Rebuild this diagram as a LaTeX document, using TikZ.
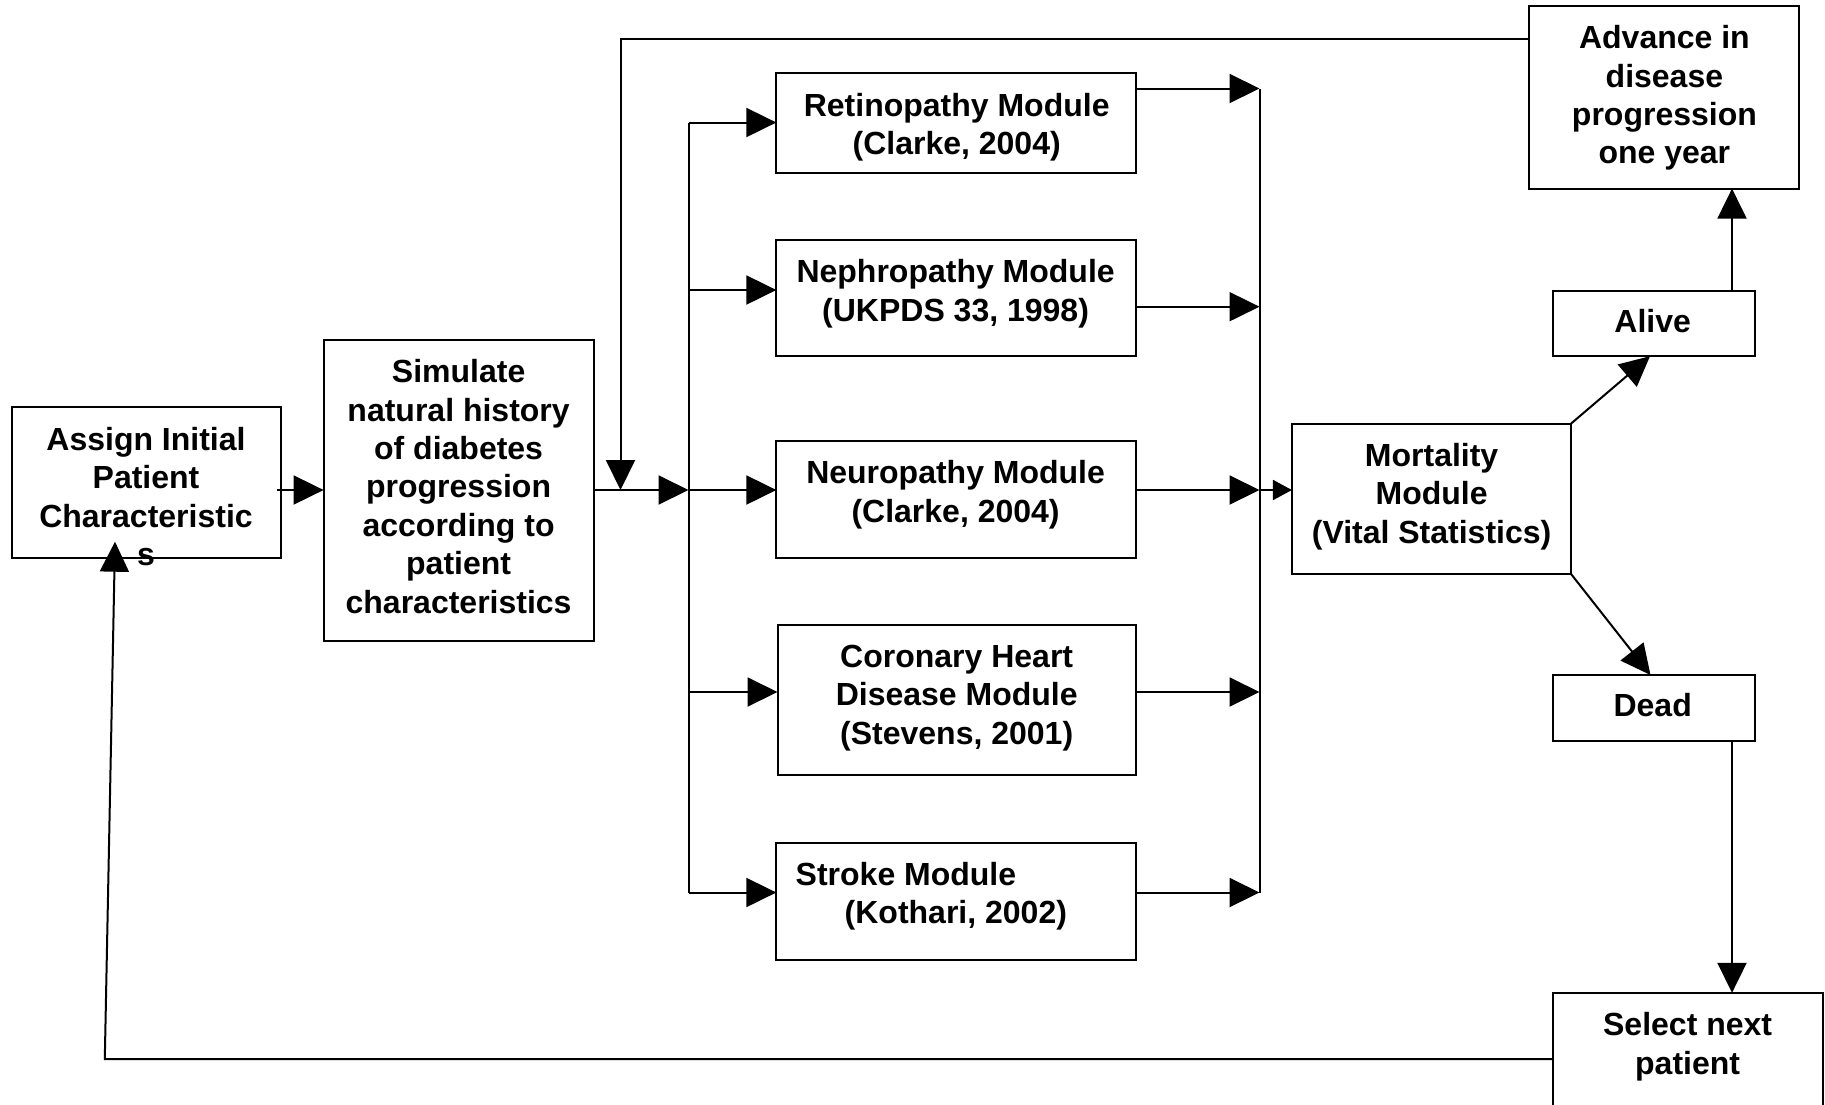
\documentclass[tikz,border=0pt]{standalone}
\usepackage{fontspec}
\setmainfont{Liberation Sans}
\usetikzlibrary{arrows.meta,calc}
\begin{document}
\begin{tikzpicture}[x=1pt,y=-1pt,
  box/.style={draw, line width=2pt, inner sep=0pt, outer sep=0pt},
  lbl/.style={inner sep=0pt, align=center, font=\fontsize{32}{38.4}\selectfont\bfseries},
  conn/.style={draw, line width=2pt},
  arr/.style={draw, line width=2pt, -{Triangle[length=30pt,width=29pt]}},
  arrS/.style={draw, line width=2pt, -{Triangle[length=19pt,width=20pt]}}]
\useasboundingbox (0,0) rectangle (1825,1104);
\clip (0,0) rectangle (1825,1104);
\fill[white] (0,0) rectangle (1825,1104);

% boxes
\node[box, minimum width=268.9pt, minimum height=150.1pt] (assign) at (146.05,482.45) {};
\node[box, minimum width=270pt, minimum height=301.4pt] (simulate) at (458.6,490.6) {};
\node[box, minimum width=359.7pt, minimum height=100.1pt] (ret) at (956.2,123.35) {};
\node[box, minimum width=359.7pt, minimum height=116.4pt] (neph) at (956.2,298) {};
\node[box, minimum width=359.7pt, minimum height=116.4pt] (neuro) at (956.2,499.3) {};
\node[box, minimum width=358.5pt, minimum height=150pt] (chd) at (956.75,699.8) {};
\node[box, minimum width=359.7pt, minimum height=117.5pt] (stroke) at (956.2,901.6) {};
\node[box, minimum width=279pt, minimum height=150.1pt] (mortality) at (1431.4,498.75) {};
\node[box, minimum width=202.5pt, minimum height=65.2pt] (alive) at (1654,323.6) {};
\node[box, minimum width=202.5pt, minimum height=66.4pt] (dead) at (1654,708.2) {};
\node[box, minimum width=270pt, minimum height=182.8pt] (advance) at (1664.4,97.2) {};
\node[box, minimum width=270pt, minimum height=127.2pt] (select) at (1687.7,1056.4) {};

% labels
\node[lbl] (assignT) at (146,496.4) {Assign Initial\\Patient\\Characteristic\\s};
\node[lbl] (simulateT) at (458.6,486.4) {Simulate\\natural history\\of diabetes\\progression\\according to\\patient\\characteristics};
\node[lbl] (retT) at (956.7,127.1) {Retinopathy Module\\(Clarke, 2004)};
\node[lbl] (nephT) at (955.6,293.6) {Nephropathy Module\\(UKPDS 33, 1998)};
\node[lbl] (neuroT) at (955.6,494.9) {Neuropathy Module\\(Clarke, 2004)};
\node[lbl] (chdT) at (956.7,698) {Coronary Heart\\Disease Module\\(Stevens, 2001)};
\node[lbl, align=left, anchor=west] (strokeT) at (795.5,896.5) {Stroke Module\\\hspace*{49pt}(Kothari, 2002)};
\node[lbl] (mortalityT) at (1431.6,496.7) {Mortality\\Module\\(Vital Statistics)};
\node[lbl] (aliveT) at (1652.7,321) {Alive};
\node[lbl] (deadT) at (1652.7,705.2) {Dead};
\node[lbl] (advanceT) at (1664.4,98) {Advance in\\disease\\progression\\one year};
\node[lbl] (selectT) at (1687.6,1046.6) {Select next\\patient};

% junction coordinates
\coordinate (lRet) at (688.5,122.5);
\coordinate (lNeph) at (688.5,290);
\coordinate (lNeuro) at (688.5,490);
\coordinate (lChd) at (688.5,692);
\coordinate (lStroke) at (688.5,892.5);
\coordinate (rRet) at (1259.5,88.5);
\coordinate (rNeph) at (1259.5,306.7);
\coordinate (rNeuro) at (1259.5,490);
\coordinate (rChd) at (1259.5,692);
\coordinate (rStroke) at (1259.5,892.5);
\coordinate (fb) at (620.5,39);
\coordinate (colR) at (1732,0);
\coordinate (loopB) at (104.8,1059.2);
\coordinate (assignIn) at (115,541.7);

% flow
\draw[arr] ($(assign.east |- lNeuro)+(-4,0)$) -- (simulate.west |- lNeuro);
\draw[arr] (simulate.east |- lNeuro) -- (lNeuro);
\draw[conn] (lRet) -- (lStroke);
\draw[arr] (lRet) -- (ret.west |- lRet);
\draw[arr] (lNeph) -- (neph.west |- lNeph);
\draw[arr] (lNeuro) -- (neuro.west |- lNeuro);
\draw[arr] (lChd) -- (chd.west |- lChd);
\draw[arr] (lStroke) -- (stroke.west |- lStroke);
\draw[conn] (rRet) -- (rStroke);
\draw[arr] (ret.east |- rRet) -- (rRet);
\draw[arr] (neph.east |- rNeph) -- (rNeph);
\draw[arr] (neuro.east |- rNeuro) -- (rNeuro);
\draw[arr] (chd.east |- rChd) -- (rChd);
\draw[arr] (stroke.east |- rStroke) -- (rStroke);
\draw[arrS] (rNeuro) -- (mortality.west |- rNeuro);
\draw[arr] (mortality.north east) -- ($(alive.south)+(-4,0)$);
\draw[arr] (mortality.south east) -- ($(dead.north)+(-3.5,0)$);
\draw[arr] (alive.north -| colR) -- (advance.south -| colR);
\draw[arr] (dead.south -| colR) -- (select.north -| colR);
\draw[arr] (advance.west |- fb) -- (fb) -- (fb |- lNeuro);
\draw[arr] (select.west |- loopB) -- (loopB) -- (assignIn);
\end{tikzpicture}
\end{document}
